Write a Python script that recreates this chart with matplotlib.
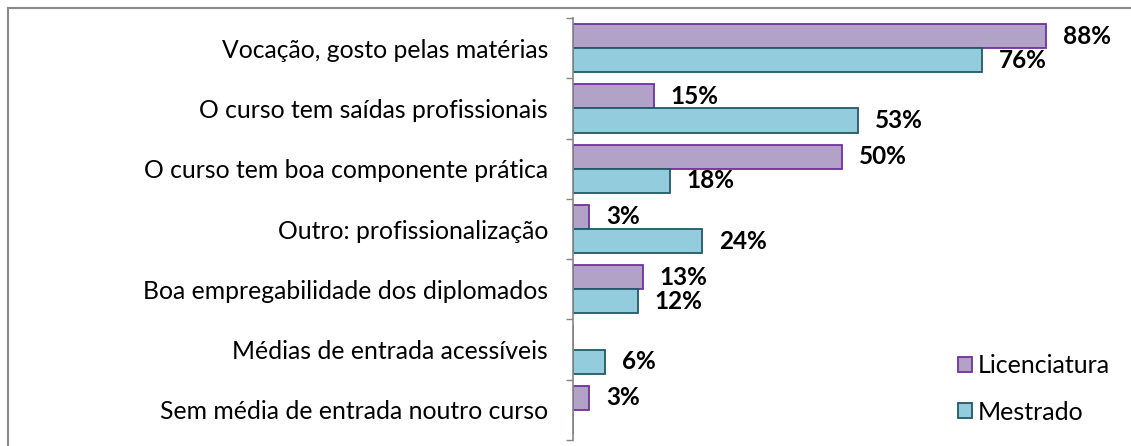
import matplotlib
matplotlib.use("Agg")
import matplotlib.pyplot as plt
from matplotlib.patches import Patch
from matplotlib.lines import Line2D

categories = [
    "Vocação, gosto pelas matérias",
    "O curso tem saídas profissionais",
    "O curso tem boa componente prática",
    "Outro: profissionalização",
    "Boa empregabilidade dos diplomados",
    "Médias de entrada acessíveis",
    "Sem média de entrada noutro curso",
]
licenciatura = [88, 15, 50, 3, 13, 0, 3]
mestrado = [76, 53, 18, 24, 12, 6, 0]
series_names = ["Licenciatura", "Mestrado"]

FONT = "Lato"
W, H = 1131, 446
fig = plt.figure(figsize=(W / 100, H / 100), dpi=100)
ax = fig.add_axes([573 / W, 1 - 440 / H, (1111 - 573) / W, (440 - 18) / H])

lic_face, lic_edge = "#B3A2C7", "#7030A0"
mes_face, mes_edge = "#93CDDD", "#215968"

n = len(categories)
pos = list(range(n))
bh = 0.4
ax.barh([p - bh / 2 for p in pos], licenciatura, height=bh, color=lic_face,
        edgecolor=lic_edge, linewidth=1.3)
ax.barh([p + bh / 2 for p in pos], mestrado, height=bh, color=mes_face,
        edgecolor=mes_edge, linewidth=1.3)

for p, v in zip(pos, licenciatura):
    if v:
        ax.annotate(f"{v}%", (v, p - bh / 2), xytext=(12, 0), textcoords="offset points",
                    ha="left", va="center", fontsize=17.5, fontweight="bold", family=FONT)
for p, v in zip(pos, mestrado):
    if v:
        ax.annotate(f"{v}%", (v, p + bh / 2), xytext=(12, 0), textcoords="offset points",
                    ha="left", va="center", fontsize=17.5, fontweight="bold", family=FONT)

ax.set_xlim(0, 100)
ax.set_ylim(n - 0.5, -0.5)
ax.set_yticks([i - 0.5 for i in range(n + 1)])
ax.set_yticklabels([])
ax.tick_params(axis="y", which="major", length=5, width=1, color="#868686", direction="out")
ax.set_yticks(pos, minor=True)
ax.set_yticklabels(categories, minor=True, fontsize=17.8, family=FONT)
ax.tick_params(axis="y", which="minor", length=0, pad=18)
ax.set_xticks([])
for s in ["top", "right", "bottom"]:
    ax.spines[s].set_visible(False)
ax.spines["left"].set_color("#868686")
ax.spines["left"].set_linewidth(1.2)

handles = [Patch(facecolor=lic_face, edgecolor=lic_edge, linewidth=1.3),
           Patch(facecolor=mes_face, edgecolor=mes_edge, linewidth=1.3)]
fig.legend(handles, series_names, loc="upper left",
           bbox_to_anchor=(958 / W, 1 - 354 / H), frameon=False,
           prop={"family": FONT, "size": 18}, handlelength=0.55, handleheight=0.55,
           handletextpad=0.25, labelspacing=0.95, borderpad=0, borderaxespad=0)

# outer chart border (top and left visible)
fig.add_artist(Line2D([8 / W, 1.0], [1 - 8 / H, 1 - 8 / H], color="#898989", linewidth=1.5))
fig.add_artist(Line2D([8 / W, 8 / W], [0, 1 - 8 / H], color="#898989", linewidth=1.5))

fig.savefig("out.png", dpi=100)
